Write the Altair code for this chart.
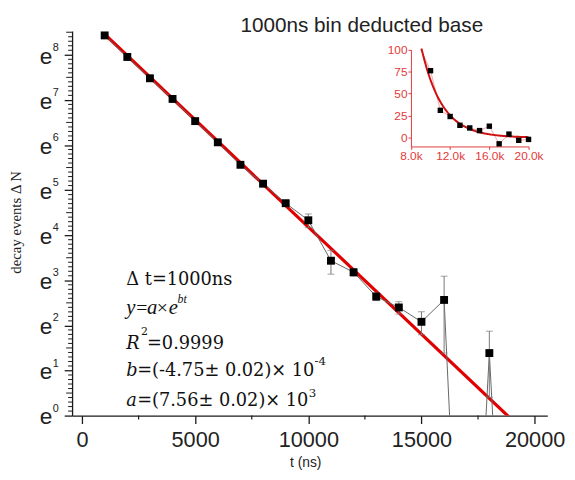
import altair as alt
import pandas as pd

# ---------------- data ----------------
t_ns = [1000, 2000, 3000, 4000, 5000, 6000, 7000, 8000, 9000, 10000,
        11000, 12000, 13000, 14000, 15000, 16000, 17000, 18000, 19000, 20000]
counts = [4580, 2840, 1770, 1120, 685, 428, 260, 171, 111, 76,
          31, 24, 14, 11, 8, 13, -7, 4, -3, -2]
errors = [30, 22, 18, 14, 11, 9, 7, 6, 5, 11.4,
          8, 2, 1.2, 1.5, 2, 9, 4, 2.5, 3, 3]

fit_a = 7560.0       # a = (7.56 ± 0.02) x 10^3
fit_b = -4.75e-4     # b = (-4.75 ± 0.02) x 10^-4
fit_range = [1000, 20000]
inset_fit_range = [9000, 20000]

y_ticks = [0, 1, 2, 3, 4, 5, 6, 7, 8]
y_sup = ["0", "1", "2", "3", "4", "5", "6", "7", "8"]
x_ticks = [0, 5000, 10000, 15000, 20000]
x_minor = [2500, 7500, 12500, 17500]
inset_x_ticks = [8000, 12000, 16000, 20000]
inset_y_ticks = [0, 25, 50, 75, 100]

df = pd.DataFrame({"t": t_ns, "N": counts, "err": errors})
one = pd.DataFrame({"d": [0]})

W, H = 482, 390
AX = "#1a1a1a"
RED = "#e00000"
IRED = "#e23a3a"
SERIF = "DejaVu Serif"
SERIF2 = "Liberation Serif"

xscale = alt.Scale(domain=[-440, 20560], nice=False, zero=False)
yscale = alt.Scale(domain=[0, 8.525], nice=False, zero=False)
xaxis = alt.Axis(values=x_ticks, format="d", tickSize=8, labelFontSize=22,
                 labelFont="Liberation Sans", labelColor="#222", domainColor=AX,
                 tickColor=AX, grid=False, title=None, labelPadding=6,
                 labelFlush=False, domainWidth=1.3, tickWidth=1.3)
yaxis = alt.Axis(values=y_ticks, labels=False, tickSize=8, grid=False, title=None,
                 domainColor=AX, tickColor=AX, domainWidth=1.3, tickWidth=1.3)


def xe(f):
    return alt.X(f"{f}:Q", scale=xscale, axis=xaxis)


def ye(f):
    return alt.Y(f"{f}:Q", scale=yscale, axis=yaxis)


base = alt.Chart(df).transform_calculate(
    lnN="datum.N > 0 ? log(datum.N) : -8",
    lo="log(max(datum.N - datum.err, 0.001))",
    hi="log(datum.N + datum.err)",
)

fit = alt.Chart(pd.DataFrame({"t": fit_range})).transform_calculate(
    lnF=f"log({fit_a}) + ({fit_b}) * datum.t"
).mark_line(color=RED, strokeWidth=3.2, clip=True).encode(x=xe("t"), y=ye("lnF"))

conn = base.mark_line(color="#666", strokeWidth=1, clip=True).encode(
    x=xe("t"), y=ye("lnN"))

pos = base.transform_filter("datum.N > 0")
ebar = pos.mark_rule(color="#777", strokeWidth=1, clip=True).encode(
    x=xe("t"), y=ye("lo"), y2="hi:Q")
cap_hi = pos.mark_tick(color="#777", orient="horizontal", size=7, thickness=1).encode(
    x=xe("t"), y=ye("hi"))
cap_lo = pos.transform_filter("datum.N - datum.err > 1").mark_tick(
    color="#777", orient="horizontal", size=7, thickness=1).encode(
    x=xe("t"), y=ye("lo"))
pts = pos.mark_square(color="black", size=64, opacity=1).encode(
    x=xe("t"), y=ye("lnN"))

# minor ticks
ymin_small = [round(i * 0.1, 1) for i in range(1, 86) if i % 5 != 0]
ymin_mid = [i + 0.5 for i in range(0, 9)]
ytick_s = alt.Chart(pd.DataFrame({"m": ymin_small})).mark_rule(
    color=AX, strokeWidth=1).encode(x=alt.value(-4), x2=alt.value(0), y=ye("m"))
ytick_m = alt.Chart(pd.DataFrame({"m": ymin_mid})).mark_rule(
    color=AX, strokeWidth=1).encode(x=alt.value(-6), x2=alt.value(0), y=ye("m"))
xtick_m = alt.Chart(pd.DataFrame({"m": x_minor})).mark_rule(
    color=AX, strokeWidth=1.2).encode(y=alt.value(H), y2=alt.value(H + 4), x=xe("m"))

# y labels e^k
ydf = pd.DataFrame({"k": y_ticks, "sup": y_sup})
ylab_e = alt.Chart(ydf).mark_text(text="e", font="Liberation Sans", fontSize=23,
                                  align="right", baseline="alphabetic", dy=9,
                                  color="#222").encode(x=alt.value(-20), y=ye("k"))
ylab_s = alt.Chart(ydf).mark_text(font="Liberation Sans", fontSize=11,
                                  align="left", baseline="alphabetic", dy=-4,
                                  color="#222").encode(x=alt.value(-19.5), y=ye("k"),
                                                       text="sup:N")


def txt(s, x, y, size=18, italic=False, font=SERIF, align="left",
        angle=0, color="#111"):
    kw = dict(text=s, font=font, fontSize=size, align=align, baseline="alphabetic",
              color=color)
    if italic:
        kw["fontStyle"] = "italic"
    if angle:
        kw["angle"] = angle
        kw["baseline"] = "middle"
    return alt.Chart(one).mark_text(**kw).encode(x=alt.value(x), y=alt.value(y))


texts = [
    txt("1000ns bin deducted base", 417, 0.5, size=21, font="Liberation Sans",
        align="right", color="#222"),
    txt("t (ns)", 237, 442, size=14, font="Liberation Sans", align="center",
        color="#222"),
    txt("decay events \u0394 N", -57, 194, size=15, font="Liberation Serif",
        align="center", angle=270, color="#222"),
    # annotation
    txt("\u0394 t=1000ns", 55, 258),
    txt("y", 55, 287, size=21, italic=True, font=SERIF2),
    txt("=", 65, 287, size=20, font=SERIF2),
    txt("a", 76, 287, size=21, italic=True, font=SERIF2),
    txt("\u00d7", 86, 287, size=20, font=SERIF2),
    txt("e", 98, 287, size=21, italic=True, font=SERIF2),
    txt("bt", 107, 276, size=12, italic=True, font=SERIF2),
    txt("R", 55, 322, italic=True),
    txt("2", 70, 308, size=11),
    txt("=0.9999", 76, 322),
    txt("b", 55, 350, italic=True),
    txt("=(-4.75\u00b1 0.02)\u00d7 10", 66, 350),
    txt("-4", 246, 339, size=12),
    txt("a", 55, 380, italic=True),
    txt("=(7.56\u00b1 0.02)\u00d7 10", 66, 380),
    txt("3", 240, 371, size=12),
]

main = alt.layer(fit, conn, ebar, cap_hi, cap_lo, pts, ytick_s, ytick_m, xtick_m,
                 ylab_e, ylab_s, *texts)

# ---------------- inset ----------------
ixs = alt.Scale(domain=[8000, 20000], range=[343.7, 463], nice=False, zero=False,
                clamp=True)
iys = alt.Scale(domain=[-10, 100], range=[117, 18.7], nice=False, zero=False,
                clamp=True)
ixaxis = alt.Axis(orient="bottom", offset=-(H - 117), values=inset_x_ticks,
                  labelExpr="format(datum.value/1000, '.1f') + 'k'",
                  labelColor=IRED, domainColor=IRED, tickColor=IRED, tickSize=3,
                  labelFontSize=12, labelFont="Liberation Sans", labelPadding=1,
                  labelFlush=False, grid=False, title=None)
iyaxis = alt.Axis(orient="left", offset=-343.7, values=inset_y_ticks,
                  labelColor=IRED, domainColor=IRED, tickColor=IRED, tickSize=3,
                  labelFontSize=12, labelFont="Liberation Sans", labelPadding=1,
                  grid=False, title=None)


def ixe(f):
    return alt.X(f"{f}:Q", scale=ixs, axis=ixaxis)


def iye(f):
    return alt.Y(f"{f}:Q", scale=iys, axis=iyaxis)


iline = alt.Chart(df).transform_filter("datum.t >= 9000").mark_line(
    color="#f0a8a8", strokeWidth=1).encode(x=ixe("t"), y=iye("N"))
ifit = alt.Chart(alt.sequence(inset_fit_range[0], inset_fit_range[1] + 1, 100,
                              as_="t")).transform_calculate(
    F=f"{fit_a} * exp(({fit_b}) * datum.t)"
).mark_line(color="#d01010", strokeWidth=2).encode(x=ixe("t"), y=iye("F"))
ipts = alt.Chart(df).transform_filter("datum.t >= 10000").mark_square(
    color="black", size=30, opacity=1).encode(x=ixe("t"), y=iye("N"))

inset = alt.layer(iline, ifit, ipts)

chart = alt.layer(main, inset).resolve_scale(
    x="independent", y="independent"
).properties(
    width=W, height=H,
    padding={"left": 65, "top": 20, "right": 20, "bottom": 70},
    autosize=alt.AutoSizeParams(type="none"),
).configure_view(stroke=None)

chart.save("out.html", embed_options={"renderer": "svg", "actions": False})
